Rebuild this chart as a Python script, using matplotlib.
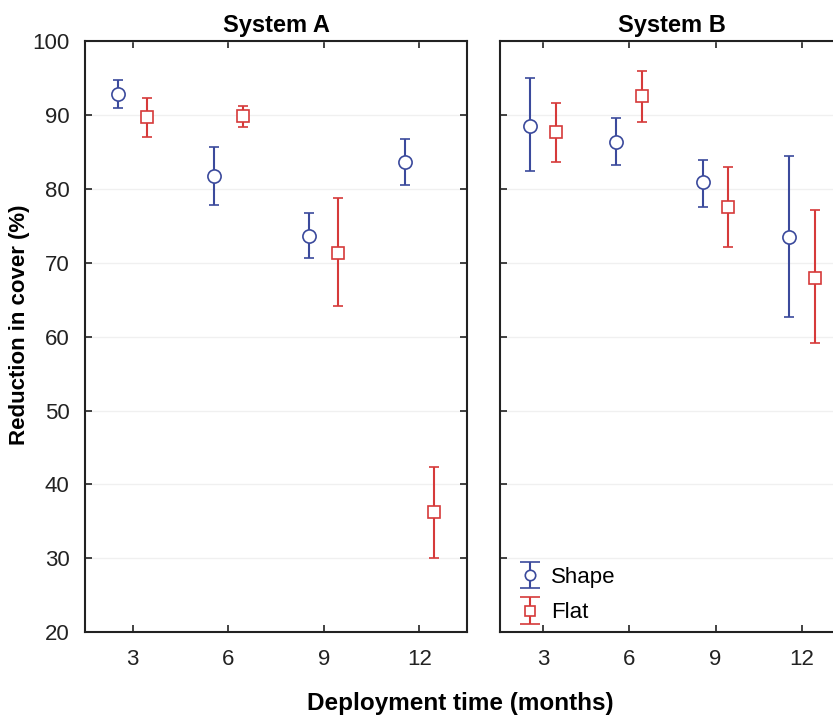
import numpy as np
import matplotlib
matplotlib.use("Agg")
import matplotlib.pyplot as plt
from matplotlib.legend_handler import HandlerErrorbar

plt.rcParams['font.family'] = ['Liberation Sans', 'DejaVu Sans']

months = [3, 6, 9, 12]

# System A
a_shape = [92.9, 81.8, 73.6, 83.7]
a_shape_hi = [94.8, 85.7, 76.7, 86.7]
a_shape_lo = [90.9, 77.8, 70.6, 80.6]
a_flat = [89.7, 89.9, 71.3, 36.3]
a_flat_hi = [92.3, 91.3, 78.8, 42.3]
a_flat_lo = [87.0, 88.4, 64.1, 30.1]

# System B
b_shape = [88.5, 86.4, 80.9, 73.5]
b_shape_hi = [95.0, 89.6, 83.9, 84.4]
b_shape_lo = [82.4, 83.3, 77.6, 62.7]
b_flat = [87.7, 92.6, 77.6, 68.0]
b_flat_hi = [91.7, 96.0, 83.0, 77.2]
b_flat_lo = [83.6, 89.1, 72.2, 59.1]

blue = "#3b4a9c"
red = "#d63a3a"
offset = 0.45

fig = plt.figure(figsize=(8.33, 7.16), dpi=100)
ax1 = fig.add_axes([0.102, 0.117, 0.4586, 0.8254])
ax2 = fig.add_axes([0.6002, 0.117, 0.414, 0.8254])

panels = [
    (ax1, "System A", a_shape, a_shape_lo, a_shape_hi, a_flat, a_flat_lo, a_flat_hi),
    (ax2, "System B", b_shape, b_shape_lo, b_shape_hi, b_flat, b_flat_lo, b_flat_hi),
]

for ax, title, s, slo, shi, f, flo, fhi in panels:
    x = np.array(months, dtype=float)
    s, slo, shi = np.array(s), np.array(slo), np.array(shi)
    f, flo, fhi = np.array(f), np.array(flo), np.array(fhi)
    ax.errorbar(x - offset, s, yerr=[s - slo, shi - s], fmt="o", color=blue,
                mfc="white", mec=blue, ms=9.5, mew=1.2, capsize=3.8, capthick=1.8,
                elinewidth=1.5, zorder=3)
    ax.errorbar(x + offset, f, yerr=[f - flo, fhi - f], fmt="s", color=red,
                mfc="white", mec=red, ms=8.5, mew=1.2, capsize=3.8, capthick=1.8,
                elinewidth=1.5, zorder=3)
    ax.set_xlim(1.5, 13.5)
    ax.set_ylim(20, 100)
    ax.set_xticks(months)
    ax.set_yticks(np.arange(20, 101, 10))
    ax.grid(axis="y", color="#f0f0f0", linewidth=1)
    ax.set_axisbelow(True)
    ax.tick_params(direction="in", top=True, right=True, length=5, width=1.2,
                   labelsize=16, colors="#222222")
    ax.tick_params(axis="x", pad=12)
    ax.tick_params(axis="y", pad=11)
    for sp in ax.spines.values():
        sp.set_linewidth(1.5)
        sp.set_color("#222222")
    ax.set_title(title, fontsize=17, fontweight="bold", pad=7)

ax2.tick_params(labelleft=False)
ax1.set_ylabel("Reduction in cover (%)", fontsize=16, fontweight="bold")
ax1.yaxis.set_label_coords(-0.145, 0.52)
fig.text(0.552, 0.018, "Deployment time (months)", fontsize=17.5, fontweight="bold",
         ha="center", va="center")

# legend proxies with wider caps, as in the original
h1 = ax2.errorbar([np.nan], [np.nan], yerr=[1], fmt="o", color=blue, mfc="white",
                  mec=blue, ms=7.5, mew=1.2, capsize=7, capthick=1.8, elinewidth=1.5)
h2 = ax2.errorbar([np.nan], [np.nan], yerr=[1], fmt="s", color=red, mfc="white",
                  mec=red, ms=7, mew=1.2, capsize=7, capthick=1.8, elinewidth=1.5)
ax2.legend([h1, h2], ["Shape", "Flat"], loc="lower left", frameon=False, fontsize=16,
           handlelength=1.0, handletextpad=0.45, labelspacing=0.65, borderaxespad=0.0,
           bbox_to_anchor=(0.03, 0.0),
           handler_map={type(h1): HandlerErrorbar(yerr_size=0.6)})

fig.savefig("out.png", dpi=100)
